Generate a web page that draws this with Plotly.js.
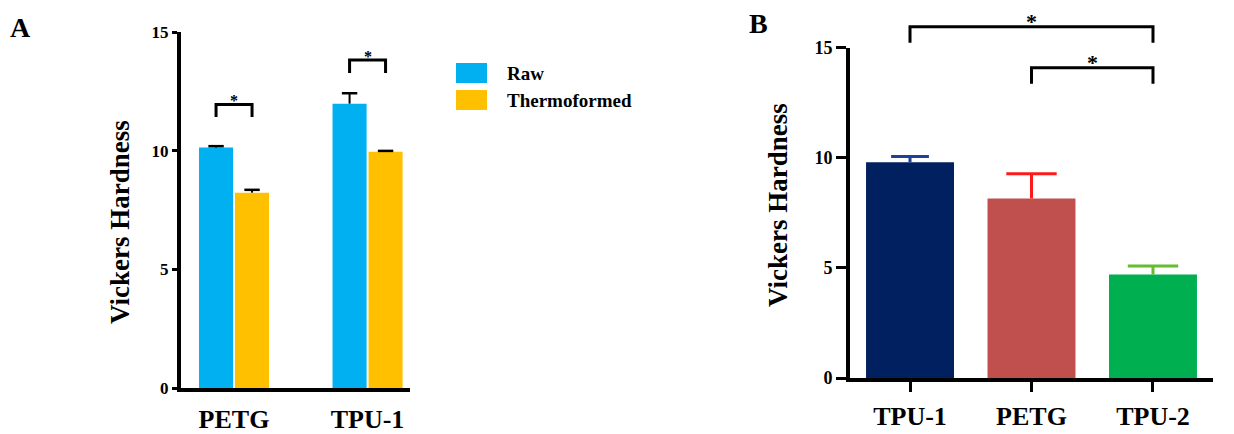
<!DOCTYPE html>
<html>
<head>
<meta charset="utf-8">
<script src="https://cdn.plot.ly/plotly-3.0.1.min.js"></script>
<style>
  html, body { margin: 0; padding: 0; background: #ffffff; }
  #chart { width: 1234px; height: 434px; }
</style>
</head>
<body>
<div id="chart"></div>
<script>
// ---- Panel A: hardness of raw vs thermoformed material ----
const groupsA = ['PETG', 'TPU-1'];
const seriesNamesA = ['Raw', 'Thermoformed'];
const rawValues = [10.13, 11.98];
const rawErrors = [0.06, 0.44];
const thermoValues = [8.23, 9.95];
const thermoErrors = [0.12, 0.04];
// significance brackets (one per group): bar level and leg end
const bracketTopA = [11.95, 13.82];
const bracketLegA = [11.42, 13.27];

// ---- Panel B: hardness per material ----
const materialsB = ['TPU-1', 'PETG', 'TPU-2'];
const hardnessB = [9.80, 8.15, 4.70];
const errorsB = [0.26, 1.12, 0.39];
// significance brackets: pairs of material indices
const pairsB = [[0, 2], [1, 2]];
const bracketTopB = [15.95, 14.09];
const bracketLegB = [15.23, 13.36];

const yTicks = [0, 5, 10, 15];
const yMax = 15;

// ---- styling ----
const FONT = 'Times New Roman, Liberation Serif, serif';
const W = 1234, H = 434;
const colorsA = ['#00b0f0', '#ffc000'];
const colorsB = ['#002060', '#c0504d', '#00b050'];
const errColorsB = ['#1f3f99', '#ff1a1a', '#66bb33'];
const capSizesB = [27, 36, 36];

// bar geometry in panel A (in category units)
const barW = 0.255;
const offsets = [-0.262, 0.0075];
const centerShift = offsets.map(o => o + barW / 2);

const px = v => v / W;           // horizontal pixel -> paper
const py = v => 1 - v / H;       // vertical pixel -> paper

const xIdxA = groupsA.map((_, i) => i);
const xIdxB = materialsB.map((_, i) => i);
const traces = [];

// upward-only error stem drawn by the bar trace; the cap is a line marker on top
function stem(errs, color, thick) {
  return { type: 'data', symmetric: false, array: errs, arrayminus: errs.map(() => 0),
           visible: true, color: color, thickness: thick, width: 0 };
}
function caps(x, y, color, size, thick, xa, ya) {
  return {
    type: 'scatter', mode: 'markers', x: x, y: y, xaxis: xa, yaxis: ya,
    marker: { symbol: 'line-ew', size: size, color: color, line: { color: color, width: thick } },
    cliponaxis: false, showlegend: false, hoverinfo: 'skip'
  };
}

// panel A bars
[[rawValues, rawErrors], [thermoValues, thermoErrors]].forEach(([vals, errs], s) => {
  traces.push({
    type: 'bar', name: seriesNamesA[s], x: xIdxA, y: vals,
    xaxis: 'x', yaxis: 'y',
    width: barW, offset: offsets[s],
    marker: { color: colorsA[s], line: { width: 0 } },
    error_y: stem(errs, '#000000', 2),
    showlegend: false, hoverinfo: 'x+y'
  });
  traces.push(caps(xIdxA.map(c => c + centerShift[s]), vals.map((v, i) => v + errs[i]),
                   '#000000', 11, 2.5, 'x', 'y'));
});

// panel B bars, one trace per material so each error bar keeps its own colour
materialsB.forEach((m, i) => {
  traces.push({
    type: 'bar', name: m, x: [xIdxB[i]], y: [hardnessB[i]],
    xaxis: 'x2', yaxis: 'y2', width: 0.724,
    marker: { color: colorsB[i], line: { width: 0 } },
    error_y: stem([errorsB[i]], errColorsB[i], 3),
    showlegend: false, hoverinfo: 'y'
  });
  traces.push(caps([xIdxB[i]], [hardnessB[i] + errorsB[i]], errColorsB[i], capSizesB[i], 3, 'x2', 'y2'));
});

// significance brackets: drawn on the x axis, y given as a fraction of the y axis
const shapes = [];
const starAnn = [];
function bracket(xref, yref, xl, xr, top, leg, starSize, starShift) {
  const t = top / yMax, l = leg / yMax;
  shapes.push({
    type: 'path', xref: xref, yref: yref + ' domain',
    path: `M${xl},${l} L${xl},${t} L${xr},${t} L${xr},${l}`,
    line: { color: '#000000', width: 3 }
  });
  starAnn.push({
    xref: xref, yref: yref + ' domain', x: (xl + xr) / 2, y: t, text: '*',
    showarrow: false, yanchor: 'bottom', yshift: starShift,
    font: { family: FONT, size: starSize, color: '#000000', weight: 'bold' }
  });
}
xIdxA.forEach((c, i) => bracket('x', 'y', c + centerShift[0], c + centerShift[1],
                                bracketTopA[i], bracketLegA[i], 16, -7));
pairsB.forEach(([a, b], i) => bracket('x2', 'y2', xIdxB[a], xIdxB[b],
                                      bracketTopB[i], bracketLegB[i], 22, -9));

// legend for panel A: coloured swatches with labels
const legendAnn = [];
const legendRows = [[63, 83], [90, 110]];
seriesNamesA.forEach((name, s) => {
  const [t, b] = legendRows[s];
  shapes.push({
    type: 'rect', xref: 'paper', yref: 'paper',
    x0: px(456), x1: px(487), y0: py(b), y1: py(t),
    fillcolor: colorsA[s], line: { width: 0 }
  });
  legendAnn.push({
    xref: 'paper', yref: 'paper', x: px(505), y: py((t + b) / 2),
    xanchor: 'left', yanchor: 'middle', text: name, showarrow: false,
    font: { family: FONT, size: 19, color: '#000000', weight: 'bold' }
  });
});

const titleFont = { family: FONT, size: 27, color: '#000000', weight: 'bold' };
const panelFont = { family: FONT, size: 28, color: '#000000', weight: 'bold' };

const annotations = [
  ...starAnn, ...legendAnn,
  { xref: 'paper', yref: 'paper', x: px(120), y: py(222), text: 'Vickers Hardness',
    textangle: -90, showarrow: false, xanchor: 'center', yanchor: 'middle', font: titleFont },
  { xref: 'paper', yref: 'paper', x: px(778), y: py(205), text: 'Vickers Hardness',
    textangle: -90, showarrow: false, xanchor: 'center', yanchor: 'middle', font: titleFont },
  { xref: 'paper', yref: 'paper', x: px(20), y: py(28), text: 'A', showarrow: false,
    xanchor: 'center', yanchor: 'middle', font: panelFont },
  { xref: 'paper', yref: 'paper', x: px(758), y: py(23), text: 'B', showarrow: false,
    xanchor: 'center', yanchor: 'middle', font: panelFont }
];

const axisCommon = {
  showgrid: false, zeroline: false, showline: true, linecolor: '#000000',
  tickcolor: '#000000', fixedrange: true
};

const layout = {
  width: W, height: H,
  margin: { l: 0, r: 0, t: 0, b: 0 },
  paper_bgcolor: '#ffffff', plot_bgcolor: 'rgba(0,0,0,0)',
  barmode: 'overlay',
  showlegend: false,
  font: { family: FONT, color: '#000000' },
  xaxis: Object.assign({}, axisCommon, {
    domain: [px(181), px(410)], anchor: 'y',
    range: [-0.397, 1.318], tickmode: 'array', tickvals: xIdxA, ticktext: groupsA,
    ticks: '', linewidth: 4, ticklabelstandoff: 5,
    tickfont: { family: FONT, size: 26, color: '#000000', weight: 'bold' }
  }),
  yaxis: Object.assign({}, axisCommon, {
    domain: [py(388), py(32)], anchor: 'x',
    range: [0, yMax], tickmode: 'array', tickvals: yTicks,
    ticks: 'outside', ticklen: 5, tickwidth: 3, linewidth: 4,
    tickfont: { family: FONT, size: 17, color: '#000000', weight: 'bold' }
  }),
  xaxis2: Object.assign({}, axisCommon, {
    domain: [px(850), px(1213)], anchor: 'y2',
    range: [-0.494, 2.494], tickmode: 'array', tickvals: xIdxB, ticktext: materialsB,
    ticks: 'outside', ticklen: 10, tickwidth: 3, linewidth: 4, ticklabelstandoff: 2,
    tickfont: { family: FONT, size: 26, color: '#000000', weight: 'bold' }
  }),
  yaxis2: Object.assign({}, axisCommon, {
    domain: [py(378), py(47.7)], anchor: 'x2',
    range: [0, yMax], tickmode: 'array', tickvals: yTicks,
    ticks: 'outside', ticklen: 10, tickwidth: 3, linewidth: 4,
    tickfont: { family: FONT, size: 18, color: '#000000', weight: 'bold' }
  }),
  shapes: shapes,
  annotations: annotations
};

Plotly.newPlot('chart', traces, layout, { displayModeBar: false, staticPlot: true });
</script>
</body>
</html>
